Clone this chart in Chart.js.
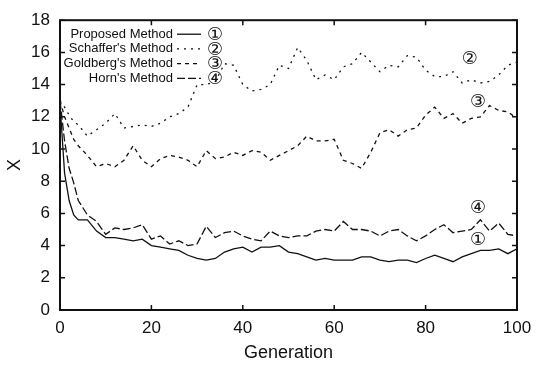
<!DOCTYPE html>
<html>
<head>
<meta charset="utf-8">
<script src="https://cdn.jsdelivr.net/npm/chart.js@4/dist/chart.umd.min.js"></script>
<style>
  body { margin: 0; background: #fff; }
  #wrap { width: 544px; height: 368px; }
</style>
</head>
<body>
<div id="wrap"><canvas id="myChart" width="544" height="368"></canvas></div>
<script>
// generation numbers (denser at the start where curves drop fast)
const generations = [0, 1, 2, 3, 4,
  6, 8, 10, 12, 14, 16, 18, 20, 22, 24, 26, 28, 30, 32, 34, 36, 38, 40,
  42, 44, 46, 48, 50, 52, 54, 56, 58, 60, 62, 64, 66, 68, 70, 72, 74, 76,
  78, 80, 82, 84, 86, 88, 90, 92, 94, 96, 98, 100];

const proposed = [12.8, 8.5, 6.8, 5.9, 5.6,
  5.6, 4.9, 4.5, 4.5, 4.4, 4.3, 4.4, 4.0, 3.9, 3.8, 3.7, 3.4, 3.2, 3.1, 3.2, 3.6, 3.8, 3.9,
  3.6, 3.9, 3.9, 4.0, 3.6, 3.5, 3.3, 3.1, 3.2, 3.1, 3.1, 3.1, 3.3, 3.3, 3.1, 3.0, 3.1, 3.1,
  2.95, 3.2, 3.4, 3.2, 3.0, 3.3, 3.5, 3.7, 3.7, 3.8, 3.5, 3.8];

const schaffer = [13.0, 12.6, 12.1, 11.7, 11.5,
  10.8, 11.2, 11.6, 12.2, 11.3, 11.4, 11.5, 11.4, 11.6, 12.0, 12.2, 12.6, 14.0, 14.0, 14.2, 15.3, 15.2, 14.0,
  13.6, 13.7, 14.0, 15.2, 15.0, 16.3, 15.5, 14.3, 14.6, 14.3, 15.1, 15.3, 16.0, 15.4, 14.8, 15.2, 15.1, 15.8,
  15.7, 14.9, 14.5, 14.5, 14.8, 14.1, 14.3, 14.1, 14.2, 14.6, 15.2, 15.4];

const goldberg = [13.0, 12.0, 11.3, 10.6, 10.2,
  9.6, 8.9, 9.1, 8.9, 9.3, 10.2, 9.3, 8.9, 9.4, 9.6, 9.5, 9.3, 8.9, 9.9, 9.4, 9.5, 9.8, 9.6,
  9.9, 9.8, 9.3, 9.6, 9.9, 10.2, 10.8, 10.5, 10.5, 10.6, 9.3, 9.1, 8.8, 9.8, 11.0, 11.2, 10.8, 11.2,
  11.3, 12.1, 12.6, 11.9, 12.2, 11.6, 11.9, 12.0, 12.7, 12.4, 12.3, 11.9];

const horn = [13.0, 10.5, 8.8, 7.9, 6.8,
  5.9, 5.5, 4.7, 5.1, 5.0, 5.1, 5.3, 4.4, 4.6, 4.1, 4.3, 4.0, 4.1, 5.2, 4.5, 4.8, 4.9, 4.6,
  4.4, 4.3, 4.9, 4.6, 4.5, 4.6, 4.6, 4.9, 5.0, 4.9, 5.5, 5.0, 5.0, 4.9, 4.6, 4.9, 5.0, 4.6,
  4.3, 4.6, 5.0, 5.3, 4.8, 4.9, 5.0, 5.6, 4.9, 5.4, 4.7, 4.6];

const seriesNames = ['Proposed Method', "Schaffer's Method", "Goldberg's Method", "Horn's Method"];
const seriesMarks = ['\u2460', '\u2461', '\u2462', '\u2463'];

// circled numbers written next to the curves (generation, value)
const markGen = [91.5, 89.7, 91.5, 91.5];
const markVal = [4.3, 15.6, 12.9, 6.3];

const xTicks = [0, 20, 40, 60, 80, 100];
const yTicks = [0, 2, 4, 6, 8, 10, 12, 14, 16, 18];

const toPoints = vals => vals.map((v, i) => ({ x: generations[i], y: v }));

const FONT = '"Liberation Sans", Arial, Helvetica, sans-serif';
const MARK_FONT = '18px "DejaVu Sans", "Noto Sans CJK JP", sans-serif';
const INK = '#111';

// frame with inward ticks, custom legend and curve markers
const decor = {
  id: 'decor',
  afterDraw(chart) {
    const { ctx, chartArea: a, scales: { x, y } } = chart;
    ctx.save();
    ctx.strokeStyle = INK;
    ctx.fillStyle = INK;
    ctx.setLineDash([]);
    ctx.lineWidth = 2;
    ctx.strokeRect(a.left, a.top, a.right - a.left, a.bottom - a.top);

    ctx.lineWidth = 1.5;
    xTicks.forEach(t => {
      const px = x.getPixelForValue(t);
      ctx.beginPath();
      ctx.moveTo(px, a.bottom); ctx.lineTo(px, a.bottom - 5);
      ctx.moveTo(px, a.top); ctx.lineTo(px, a.top + 5);
      ctx.stroke();
    });
    yTicks.forEach(t => {
      const py = y.getPixelForValue(t);
      ctx.beginPath();
      ctx.moveTo(a.left, py); ctx.lineTo(a.left + 5, py);
      ctx.moveTo(a.right, py); ctx.lineTo(a.right - 5, py);
      ctx.stroke();
    });

    // legend: right aligned text, line sample, circled number
    ctx.textBaseline = 'middle';
    chart.data.datasets.forEach((ds, i) => {
      const ly = a.top + 14 + i * 14.7;
      ctx.font = '13px ' + FONT;
      ctx.textAlign = 'right';
      ctx.fillText(ds.label, a.left + 113, ly);
      ctx.lineWidth = 1.3;
      ctx.setLineDash(ds.borderDash || []);
      ctx.beginPath();
      ctx.moveTo(a.left + 117, ly);
      ctx.lineTo(a.left + 141, ly);
      ctx.stroke();
      ctx.setLineDash([]);
      ctx.font = MARK_FONT;
      ctx.textAlign = 'center';
      ctx.fillText(seriesMarks[i], a.left + 155, ly + 1);
    });

    // markers near right end of each curve
    ctx.font = MARK_FONT;
    ctx.textAlign = 'center';
    markGen.forEach((g, i) => {
      ctx.fillText(seriesMarks[i], x.getPixelForValue(g), y.getPixelForValue(markVal[i]));
    });
    ctx.restore();
  }
};

const lineStyle = {
  borderColor: INK,
  borderWidth: 1.3,
  pointRadius: 0,
  tension: 0,
  fill: false,
};

const ctx = document.getElementById('myChart').getContext('2d');
const chart = new Chart(ctx, {
  type: 'line',
  data: {
    datasets: [
      { label: seriesNames[0], data: toPoints(proposed), ...lineStyle },
      { label: seriesNames[1], data: toPoints(schaffer), ...lineStyle, borderDash: [2, 5] },
      { label: seriesNames[2], data: toPoints(goldberg), ...lineStyle, borderDash: [4, 4] },
      { label: seriesNames[3], data: toPoints(horn), ...lineStyle, borderDash: [8, 3] },
    ],
  },
  options: {
    responsive: false,
    animation: false,
    layout: { padding: { top: 6, right: 27, left: 0, bottom: 0 } },
    plugins: {
      legend: { display: false },
      tooltip: { enabled: false },
    },
    scales: {
      x: {
        type: 'linear',
        min: 0,
        max: 100,
        afterFit: s => { s.height = 58; },
        afterBuildTicks: s => { s.ticks = xTicks.map(v => ({ value: v })); },
        grid: { display: false, drawTicks: false },
        border: { display: false },
        ticks: { color: INK, padding: 8, font: { family: FONT, size: 17 }, maxRotation: 0 },
        title: { display: true, text: 'Generation', color: INK, font: { family: FONT, size: 18 }, padding: { top: 4, bottom: 4 } },
      },
      y: {
        min: 0,
        max: 18,
        afterFit: s => { s.width = 60; },
        afterBuildTicks: s => { s.ticks = yTicks.map(v => ({ value: v })); },
        grid: { display: false, drawTicks: false },
        border: { display: false },
        ticks: { color: INK, padding: 10, font: { family: FONT, size: 17 } },
        title: { display: true, text: 'X', color: INK, font: { family: FONT, size: 18 }, padding: { top: 4, bottom: 4 } },
      },
    },
  },
  plugins: [decor],
});
</script>
</body>
</html>
